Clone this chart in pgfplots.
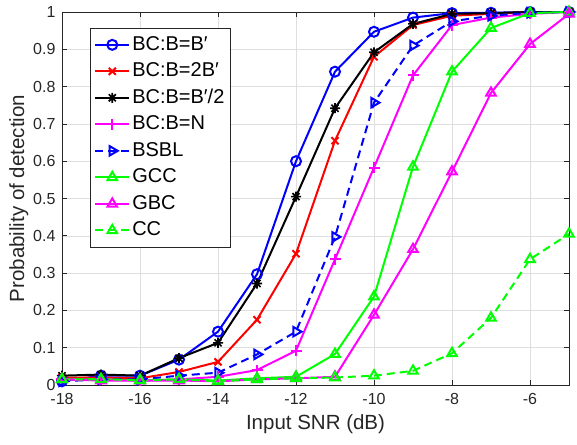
\documentclass[border=0pt]{standalone}
\usepackage{pgfplots}
\pgfplotsset{compat=1.18}
\usepackage{fontspec}
\setmainfont{Liberation Sans}
\definecolor{axgray}{gray}{0.15}
\definecolor{mblue}{rgb}{0,0,1}
\definecolor{mred}{rgb}{1,0,0}
\definecolor{mmag}{rgb}{1,0,1}
\definecolor{mgreen}{rgb}{0,1,0}
\pgfdeclareplotmark{mstar}{%
  \pgfpathmoveto{\pgfqpoint{-\pgfplotmarksize}{0pt}}\pgfpathlineto{\pgfqpoint{\pgfplotmarksize}{0pt}}%
  \pgfpathmoveto{\pgfqpoint{0pt}{-\pgfplotmarksize}}\pgfpathlineto{\pgfqpoint{0pt}{\pgfplotmarksize}}%
  \pgfpathmoveto{\pgfqpoint{-0.707\pgfplotmarksize}{-0.707\pgfplotmarksize}}\pgfpathlineto{\pgfqpoint{0.707\pgfplotmarksize}{0.707\pgfplotmarksize}}%
  \pgfpathmoveto{\pgfqpoint{-0.707\pgfplotmarksize}{0.707\pgfplotmarksize}}\pgfpathlineto{\pgfqpoint{0.707\pgfplotmarksize}{-0.707\pgfplotmarksize}}%
  \pgfusepathqstroke}
\begin{document}
\begin{tikzpicture}
\useasboundingbox (-62pt,-59pt) rectangle (515pt,385pt);
\begin{axis}[
  scale only axis, width=507pt, height=373pt,
  xmin=-18, xmax=-5, ymin=0, ymax=1,
  xtick={-18,-16,-14,-12,-10,-8,-6},
  ytick={0,0.1,0.2,0.3,0.4,0.5,0.6,0.7,0.8,0.9,1},
  yticklabels={0,0.1,0.2,0.3,0.4,0.5,0.6,0.7,0.8,0.9,1},
  /pgf/number format/assume math mode=true,
  tick align=inside, major tick length=5pt,
  xtick pos=both, ytick pos=both,
  grid=major, major grid style={gray!25, line width=0.5pt},
  axis line style={axgray, line width=0.6pt},
  tick style={axgray, line width=0.6pt},
  tick label style={font=\fontsize{16}{18}\selectfont, text=axgray},
  yticklabel style={xshift=-3pt},
  xticklabel style={yshift=-5pt},
  label style={font=\fontsize{20.5}{23}\selectfont, text=axgray},
  xlabel={Input SNR (dB)}, ylabel={Probability of detection},
  xlabel style={yshift=-3pt},
  ylabel style={yshift=-2pt},
  every axis plot/.append style={line width=2pt},
  legend style={at={(axis description cs:0.0552,0.957)}, anchor=north west, draw=axgray, line width=0.6pt,
    font=\fontsize{20}{22}\selectfont, inner xsep=4pt, inner ysep=5pt,
    nodes={text height=15pt, text depth=4pt}, row sep=3.5pt},
  legend cell align=left,
  legend image code/.code={\draw[mark repeat=2,mark phase=2] plot coordinates {(0pt,0pt) (17pt,0pt) (34pt,0pt)};},
]
\addplot[mblue, mark=o, mark size=5pt, mark options={solid}] coordinates {
(-18,0.01)(-17,0.025)(-16,0.025)(-15,0.068)(-14,0.143)(-13,0.297)(-12,0.60)(-11,0.84)(-10,0.947)(-9,0.985)(-8,0.997)(-7,0.998)(-6,1)(-5,1)};
\addlegendentry{BC:B=B′}
\addplot[mred, mark=x, mark size=5pt, mark options={solid}] coordinates {
(-18,0.02)(-17,0.02)(-16,0.018)(-15,0.035)(-14,0.062)(-13,0.175)(-12,0.352)(-11,0.655)(-10,0.88)(-9,0.965)(-8,0.99)(-7,0.995)(-6,1)(-5,1)};
\addlegendentry{BC:B=2B′}
\addplot[black, mark=mstar, mark size=5pt, mark options={solid, line width=1.6pt}] coordinates {
(-18,0.025)(-17,0.028)(-16,0.025)(-15,0.072)(-14,0.113)(-13,0.272)(-12,0.505)(-11,0.742)(-10,0.892)(-9,0.968)(-8,0.995)(-7,0.997)(-6,1)(-5,1)};
\addlegendentry{BC:B=B′/2}
\addplot[mmag, mark=+, mark size=5.5pt, mark options={solid}] coordinates {
(-18,0.015)(-17,0.015)(-16,0.012)(-15,0.015)(-14,0.022)(-13,0.04)(-12,0.092)(-11,0.337)(-10,0.583)(-9,0.83)(-8,0.965)(-7,0.985)(-6,0.995)(-5,1)};
\addlegendentry{BC:B=N}
\addplot[mblue, dash pattern=on 8pt off 5pt, mark=triangle, mark size=5.5pt, mark options={solid, rotate=-90}] coordinates {
(-18,0.01)(-17,0.015)(-16,0.015)(-15,0.025)(-14,0.033)(-13,0.082)(-12,0.143)(-11,0.397)(-10,0.757)(-9,0.91)(-8,0.975)(-7,0.99)(-6,0.998)(-5,1)};
\addlegendentry{BSBL}
\addplot[mgreen, mark=triangle, mark size=5.5pt, mark options={solid}] coordinates {
(-18,0.015)(-17,0.015)(-16,0.012)(-15,0.015)(-14,0.012)(-13,0.018)(-12,0.022)(-11,0.083)(-10,0.237)(-9,0.585)(-8,0.84)(-7,0.957)(-6,0.997)(-5,1)};
\addlegendentry{GCC}
\addplot[mmag, mark=triangle, mark size=5.5pt, mark options={solid}] coordinates {
(-18,0.015)(-17,0.012)(-16,0.012)(-15,0.012)(-14,0.01)(-13,0.015)(-12,0.018)(-11,0.022)(-10,0.188)(-9,0.364)(-8,0.572)(-7,0.783)(-6,0.914)(-5,0.995)};
\addlegendentry{GBC}
\addplot[mgreen, dash pattern=on 8pt off 5pt, mark=triangle, mark size=5.5pt, mark options={solid}] coordinates {
(-18,0.015)(-17,0.015)(-16,0.013)(-15,0.015)(-14,0.01)(-13,0.015)(-12,0.018)(-11,0.02)(-10,0.025)(-9,0.038)(-8,0.085)(-7,0.18)(-6,0.337)(-5,0.405)};
\addlegendentry{CC}
\end{axis}
\end{tikzpicture}
\end{document}
